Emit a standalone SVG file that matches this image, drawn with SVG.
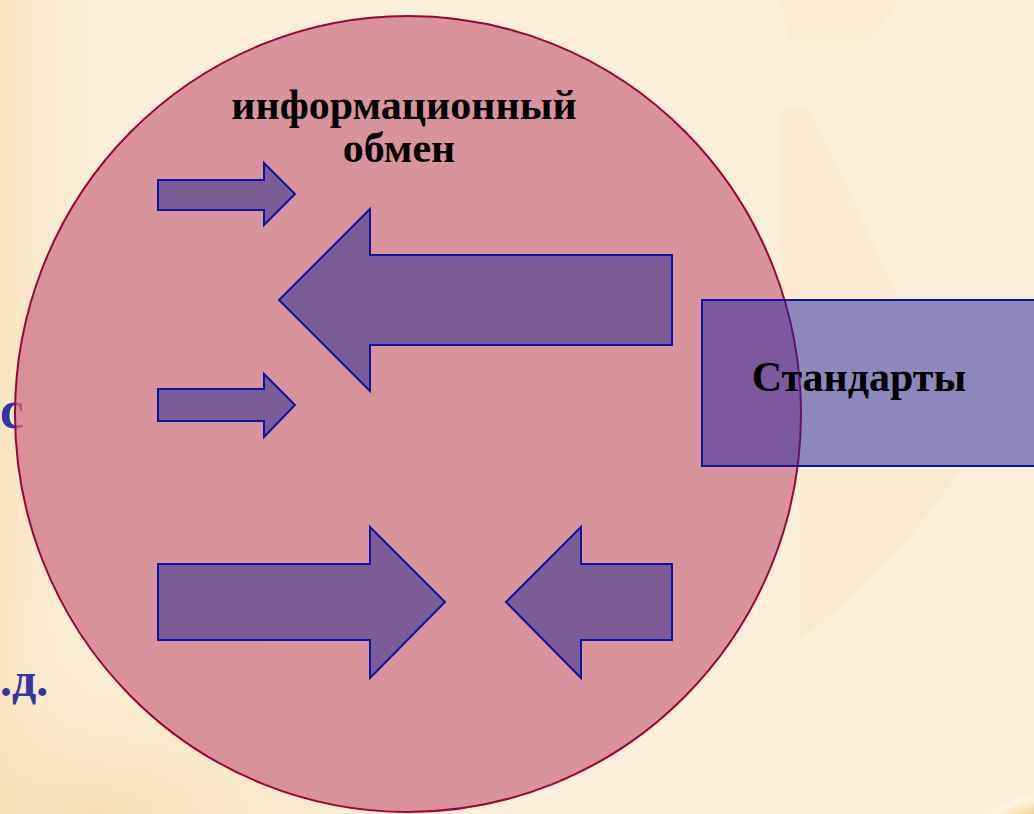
<svg xmlns="http://www.w3.org/2000/svg" width="1034" height="814" viewBox="0 0 1034 814">
  <defs>
    <style>
      .arrow { fill: #7b5c97; stroke: #0a14a8; stroke-width: 2; stroke-linejoin: miter; }
      .lbl { font-family: "Liberation Serif", "Times New Roman", serif; font-weight: bold; fill: #000; }
      .side { font-family: "Liberation Serif", "Times New Roman", serif; font-weight: bold; fill: #3434a4; }
    </style>
    <linearGradient id="leftGlow" x1="0" y1="0" x2="1" y2="0">
      <stop offset="0" stop-color="#f6d9a8" stop-opacity="0.9"/>
      <stop offset="1" stop-color="#fbefd9" stop-opacity="0"/>
    </linearGradient>
    <radialGradient id="bottomGlow" cx="0.2" cy="1" r="0.9">
      <stop offset="0" stop-color="#f6dcb0" stop-opacity="0.8"/>
      <stop offset="1" stop-color="#fbefd9" stop-opacity="0"/>
    </radialGradient>
    <radialGradient id="gold" cx="0.6" cy="0.7" r="0.7">
      <stop offset="0" stop-color="#c8902c"/>
      <stop offset="0.6" stop-color="#e8c070"/>
      <stop offset="0.85" stop-color="#fff6e0"/>
      <stop offset="1" stop-color="#fbefd9" stop-opacity="0"/>
    </radialGradient>
  </defs>

  <!-- background -->
  <rect x="0" y="0" width="1034" height="814" fill="#fbefd9"/>
  <rect x="0" y="0" width="120" height="814" fill="url(#leftGlow)" opacity="0.6"/>
  <path d="M780,0 L900,0 L870,40 L790,40 Z" fill="#f8e4c2" opacity="0.35"/>
  <path d="M780,110 L810,110 L900,300 L780,300 Z" fill="#f7e4c4" opacity="0.4"/>
  <path d="M800,470 L960,470 Q900,560 800,640 Z" fill="#f7e3c2" opacity="0.45"/>
  <rect x="0" y="560" width="500" height="254" fill="url(#bottomGlow)"/>
  <ellipse cx="1040" cy="850" rx="82" ry="68" fill="url(#gold)"/>

  <!-- side text partially visible -->
  <g id="side-text">
    <text class="side" x="0" y="428" font-size="54">с</text>
    <text class="side" x="0" y="696" font-size="48">.д.</text>
  </g>

  <!-- main ellipse -->
  <g id="circle">
    <ellipse cx="408" cy="414" rx="393" ry="398" fill="#cc6f84" fill-opacity="0.72" stroke="#a0003c" stroke-width="2"/>
    <text class="lbl" x="404" y="119" font-size="42" text-anchor="middle">информационный</text>
    <text class="lbl" x="399" y="162" font-size="42" text-anchor="middle">обмен</text>
  </g>

  <!-- standards box -->
  <g id="standards">
    <rect x="702" y="300" width="340" height="166" fill="#2020a0" fill-opacity="0.5" stroke="#0a14a8" stroke-width="2"/>
    <text class="lbl" x="859" y="391" font-size="42" text-anchor="middle">Стандарты</text>
  </g>

  <!-- arrows -->
  <g id="connectors">
    <polygon class="arrow" points="158,180 264,180 264,163 295,194 264,225 264,210 158,210"/>
    <polygon class="arrow" points="672,255 370,255 370,209 279,300 370,391 370,345 672,345"/>
    <polygon class="arrow" points="158,389 264,389 264,374 295,405 264,437 264,421 158,421"/>
    <polygon class="arrow" points="158,564 370,564 370,527 445,602 370,678 370,640 158,640"/>
    <polygon class="arrow" points="672,564 581,564 581,527 506,602 581,678 581,640 672,640"/>
  </g>
</svg>
